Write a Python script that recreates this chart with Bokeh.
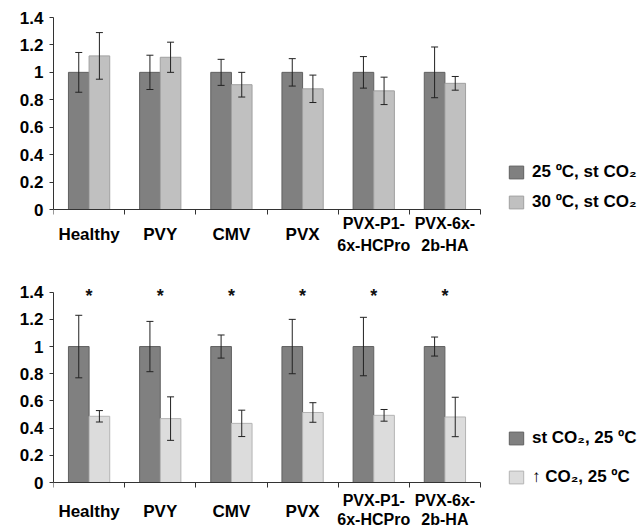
from bokeh.plotting import figure
from bokeh.models import (ColumnDataSource, Whisker, TeeHead, FixedTicker, Range1d,
                          Legend, LegendItem)
from bokeh.core.properties import value
from bokeh.layouts import column
from bokeh.transform import dodge
from bokeh.embed import file_html
from bokeh.resources import INLINE

# ---------------- data ----------------
categories = ["Healthy", "PVY", "CMV", "PVX", "PVX-P1-\n6x-HCPro", "PVX-6x-\n2b-HA"]

top_25C = [1.0, 1.0, 1.0, 1.0, 1.0, 1.0]
top_25C_err = [0.145, 0.125, 0.095, 0.10, 0.115, 0.185]
top_30C = [1.12, 1.11, 0.91, 0.88, 0.865, 0.92]
top_30C_err = [0.17, 0.11, 0.09, 0.10, 0.10, 0.05]

bot_stCO2 = [1.0, 1.0, 1.0, 1.0, 1.0, 1.0]
bot_stCO2_err = [0.23, 0.185, 0.085, 0.20, 0.215, 0.07]
bot_hiCO2 = [0.487, 0.47, 0.435, 0.515, 0.494, 0.482]
bot_hiCO2_err = [0.042, 0.16, 0.097, 0.072, 0.043, 0.145]
significance = ["*", "*", "*", "*", "*", "*"]
significance_y = [1.37, 1.37, 1.37, 1.37, 1.37, 1.37]

y_ticks = [0, 0.2, 0.4, 0.6, 0.8, 1.0, 1.2, 1.4]
y_tick_labels = ["0", "0.2", "0.4", "0.6", "0.8", "1", "1.2", "1.4"]

top_legend = ["25 ºC, st CO₂", "30 ºC, st CO₂"]
bot_legend = ["st CO₂, 25 ºC", "↑ CO₂, 25 ºC"]

# ---------------- styling / layout ----------------
FONT = "Liberation Sans"
DARK_FILL, DARK_LINE = "#808080", "#606060"
AXIS_COLOR = "#333333"
OFF = 0.145
BAR_W = 0.29
LEFT = 53                 # frame left edge (px)
AXIS_PX = 427             # width of the categorical axis (px)
WIDTH = 641
X_END = len(categories) * (WIDTH - LEFT) / AXIS_PX   # frame runs to the right edge; legend sits there

x_pos = [i + 0.5 for i in range(len(categories))]
x_bounds = list(range(len(categories) + 1))
single = [(x, c) for x, c in zip(x_pos, categories) if "\n" not in c]
double = [(x, c) for x, c in zip(x_pos, categories) if "\n" in c]


def make_panel(a, a_err, b, b_err, light_fill, light_line, labels, height, y_end,
               top_px, plot_px, label_off, line_h, spacing, legend_y, stars=None):
    # the frame runs to the bottom of the canvas so the category names can sit under the axis
    below_px = height - top_px - plot_px
    y_min = -below_px * y_end / plot_px
    src = ColumnDataSource(dict(
        x=x_pos, a=a, b=b,
        a_up=[v + e for v, e in zip(a, a_err)], a_lo=[v - e for v, e in zip(a, a_err)],
        b_up=[v + e for v, e in zip(b, b_err)], b_lo=[v - e for v, e in zip(b, b_err)],
    ))
    p = figure(width=WIDTH, height=height, output_backend="svg", toolbar_location=None,
               x_range=Range1d(0, X_END), y_range=Range1d(y_min, y_end),
               min_border_left=LEFT, min_border_right=0,
               min_border_top=top_px, min_border_bottom=0)
    p.outline_line_color = None
    p.grid.visible = False
    p.background_fill_color = "white"
    p.border_fill_color = "white"

    ra = p.vbar(x=dodge("x", -OFF), top="a", width=BAR_W, source=src,
                fill_color=DARK_FILL, line_color=DARK_LINE, line_width=1)
    rb = p.vbar(x=dodge("x", OFF), top="b", width=BAR_W, source=src,
                fill_color=light_fill, line_color=light_line, line_width=1)

    for base, up, lo in ((dodge("x", -OFF), "a_up", "a_lo"), (dodge("x", OFF), "b_up", "b_lo")):
        w = Whisker(base=base, upper=up, lower=lo, source=src, dimension="height",
                    level="annotation", line_color="#222222", line_width=1,
                    upper_head=TeeHead(size=7, line_color="#222222", line_width=1),
                    lower_head=TeeHead(size=7, line_color="#222222", line_width=1))
        p.add_layout(w)

    if stars is not None:
        ssrc = ColumnDataSource(dict(x=x_pos, s=stars[0], y=stars[1]))
        p.text(x="x", y="y", text="s", source=ssrc, text_align="center",
               text_baseline="middle", text_font=value(FONT), text_font_size="18px",
               text_font_style="bold", text_color="#111111")

    # category names under the axis
    p.text(x=[x for x, _ in single], y=[0] * len(single), text=[c for _, c in single],
           y_offset=label_off[0], text_align="center", text_baseline="middle",
           text_font=value(FONT), text_font_size="17px", text_font_style="bold",
           text_color="black")
    p.text(x=[x for x, _ in double], y=[0] * len(double), text=[c for _, c in double],
           y_offset=label_off[1], text_align="center", text_baseline="middle",
           text_line_height=line_h,
           text_font=value(FONT), text_font_size="16px", text_font_style="bold",
           text_color="black")

    # x axis: line at 0 with ticks at the category boundaries
    xa = p.xaxis[0]
    xa.fixed_location = 0
    xa.ticker = FixedTicker(ticks=[], minor_ticks=x_bounds)
    xa.bounds = (x_bounds[0], x_bounds[-1])
    xa.major_tick_out = 0
    xa.major_tick_in = 0
    xa.minor_tick_out = 5
    xa.minor_tick_in = 0
    xa.minor_tick_line_color = AXIS_COLOR
    xa.axis_line_color = AXIS_COLOR
    xa.major_label_text_font_size = "0px"

    # y axis
    ya = p.yaxis[0]
    ya.ticker = FixedTicker(ticks=y_ticks, minor_ticks=[])
    ya.major_label_overrides = {t: l for t, l in zip(y_ticks, y_tick_labels)}
    ya.bounds = (y_ticks[0], y_ticks[-1])
    ya.major_tick_out = 4
    ya.major_tick_in = 0
    ya.major_tick_line_color = AXIS_COLOR
    ya.axis_line_color = AXIS_COLOR
    ya.major_label_standoff = 6
    ya.major_label_text_font = FONT
    ya.major_label_text_font_size = "17px"
    ya.major_label_text_font_style = "bold"
    ya.major_label_text_color = "black"

    legend = Legend(items=[LegendItem(label=labels[0], renderers=[ra]),
                           LegendItem(label=labels[1], renderers=[rb])],
                    location=(454, legend_y), orientation="vertical",
                    glyph_width=18, glyph_height=16, label_height=16,
                    label_standoff=7, spacing=spacing, padding=0, margin=0,
                    border_line_color=None, background_fill_alpha=0,
                    label_text_font=FONT, label_text_font_size="17px",
                    label_text_font_style="bold", label_text_color="black")
    p.add_layout(legend)
    return p


p1 = make_panel(top_25C, top_25C_err, top_30C, top_30C_err, "#c0c0c0", "#a0a0a0",
                top_legend, height=280, y_end=1.4, top_px=17, plot_px=192,
                label_off=(25, 25), line_h=1.28, spacing=10, legend_y=68)
p2 = make_panel(bot_stCO2, bot_stCO2_err, bot_hiCO2, bot_hiCO2_err, "#dcdcdc", "#b4b4b4",
                bot_legend, height=247, y_end=1.427, top_px=8, plot_px=194,
                label_off=(29, 27.5), line_h=1.1, spacing=19, legend_y=40,
                stars=(significance, significance_y))

layout = column(p1, p2, spacing=0)
open("out.html", "w").write(file_html(layout, INLINE))
